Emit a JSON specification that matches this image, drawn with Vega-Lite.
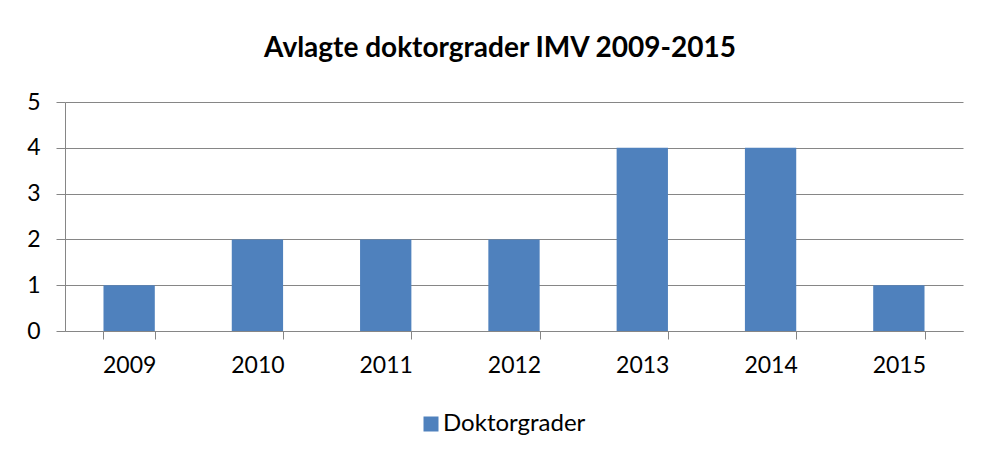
{
  "$schema": "https://vega.github.io/schema/vega-lite/v6.json",
  "width": 898,
  "height": 229,
  "autosize": "none",
  "padding": {"left": 65, "top": 102, "right": 18, "bottom": 126},
  "background": "white",
  "title": {
    "text": "Avlagte doktorgrader IMV 2009-2015",
    "font": "Lato",
    "fontSize": 28,
    "fontWeight": "bold",
    "color": "black",
    "anchor": "middle",
    "dx": -14,
    "offset": 28
  },
  "data": {
    "values": [
      {"year": "2009", "count": 1, "series": "Doktorgrader"},
      {"year": "2010", "count": 2, "series": "Doktorgrader"},
      {"year": "2011", "count": 2, "series": "Doktorgrader"},
      {"year": "2012", "count": 2, "series": "Doktorgrader"},
      {"year": "2013", "count": 4, "series": "Doktorgrader"},
      {"year": "2014", "count": 4, "series": "Doktorgrader"},
      {"year": "2015", "count": 1, "series": "Doktorgrader"}
    ]
  },
  "mark": {"type": "bar"},
  "encoding": {
    "x": {
      "field": "year",
      "type": "nominal",
      "scale": {"paddingInner": 0.6, "paddingOuter": 0.3},
      "axis": {
        "title": null,
        "labelAngle": 0,
        "labelFont": "Lato",
        "labelFontSize": 23,
        "labelColor": "black",
        "labelPadding": 15,
        "tickBand": "extent",
        "tickSize": 8,
        "tickColor": "#868686",
        "domainColor": "#868686",
        "grid": false
      }
    },
    "y": {
      "field": "count",
      "type": "quantitative",
      "scale": {"domain": [0, 5], "nice": false},
      "axis": {
        "title": null,
        "values": [0, 1, 2, 3, 4, 5],
        "labelFont": "Lato",
        "labelFontSize": 23,
        "labelColor": "black",
        "labelPadding": 16,
        "tickSize": 9,
        "tickColor": "#868686",
        "domainColor": "#868686",
        "grid": true,
        "gridColor": "#868686",
        "gridOpacity": 1
      }
    },
    "color": {
      "field": "series",
      "type": "nominal",
      "scale": {"range": ["#4F81BD"]},
      "legend": {
        "title": null,
        "orient": "none",
        "legendX": 354,
        "legendY": 310,
        "padding": 0,
        "symbolType": "square",
        "symbolSize": 225,
        "symbolStrokeWidth": 0,
        "labelFont": "Lato",
        "labelFontSize": 24,
        "labelColor": "black",
        "labelOffset": 0
      }
    }
  },
  "config": {
    "view": {"stroke": null}
  }
}
